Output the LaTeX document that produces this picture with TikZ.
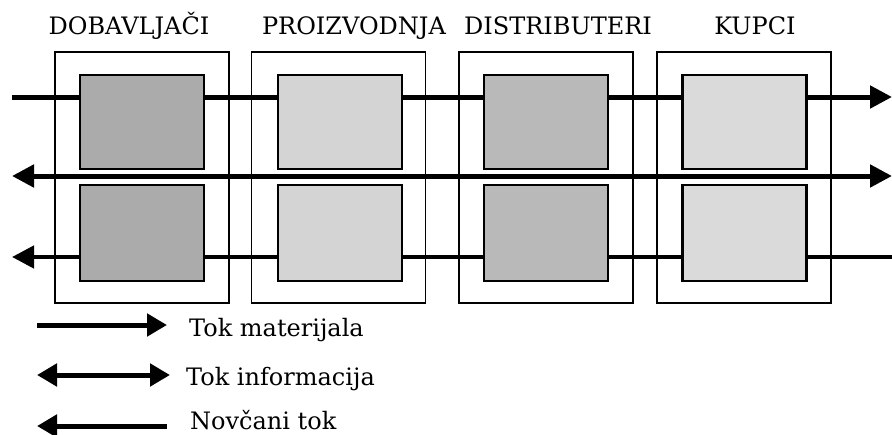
\documentclass[tikz,border=0pt]{standalone}
\usepackage{fontspec}
\setmainfont{DejaVu Serif}
\usepackage{tikz}
\usetikzlibrary{positioning,arrows.meta}

\definecolor{sivaA}{HTML}{ABABAB}
\definecolor{sivaB}{HTML}{D4D4D4}
\definecolor{sivaC}{HTML}{B9B9B9}
\definecolor{sivaD}{HTML}{DADADA}

\tikzset{
    okvir/.style={draw, rectangle, line width=1.6pt, minimum width=174pt, minimum height=251pt, inner sep=0pt},
    kutija/.style={draw, rectangle, line width=2.6pt, minimum width=124pt, inner sep=0pt},
    tok/.style={line width=5pt},
    vrh/.style={-{Triangle[length=22pt,width=22pt]}},
    naslov/.style={font=\fontsize{24}{26}\selectfont, inner sep=0pt, anchor=base},
    opis/.style={font=\fontsize{24}{26}\selectfont, inner sep=0pt, anchor=base west}
}

\begin{document}
\begin{tikzpicture}[x=1pt, y=-1pt]
                    \useasboundingbox (0,0) rectangle (892,434);
                    \node[naslov] (hDob) at (129,34) {DOBAVLJAČI};
                    \node[naslov] (hPro) at (354,34) {PROIZVODNJA};
                    \node[naslov] (hDis) at (558,34) {DISTRIBUTERI};
                    \node[naslov] (hKup) at (755,34) {KUPCI};
                    \node[okvir] (fDob) at (142,177.5) {};
                    \node[okvir] (fPro) at (338.5,177.5) {};
                    \node[okvir] (fDis) at (546,177.5) {};
                    \node[okvir] (fKup) at (744,177.5) {};
                    \coordinate (matL) at (12,97);
                    \coordinate (matR) at (892,97);
                    \coordinate (infL) at (12,176);
                    \coordinate (infR) at (892,176);
                    \coordinate (novL) at (12,257);
                    \coordinate (novR) at (892,257);
                    \draw[tok, vrh] (matL) -- (matR);
                    \draw[tok, {Triangle[length=22pt,width=22pt]}-{Triangle[length=22pt,width=22pt]}] (infL) -- (infR);
                    \draw[tok, line width=4.5pt, {Triangle[length=22pt,width=22pt]}-] (novL) -- (novR);
                    \node[kutija, fill=sivaA, minimum height=94pt] (gDob) at (142,122) {};
                    \node[kutija, fill=sivaB, minimum height=94pt] (gPro) at (340,122) {};
                    \node[kutija, fill=sivaC, minimum height=94pt] (gDis) at (546,122) {};
                    \node[kutija, fill=sivaD, minimum height=94pt] (gKup) at (744.5,122) {};
                    \node[kutija, fill=sivaA, minimum height=96pt] (dDob) at (142,233) {};
                    \node[kutija, fill=sivaB, minimum height=96pt] (dPro) at (340,233) {};
                    \node[kutija, fill=sivaC, minimum height=96pt] (dDis) at (546,233) {};
                    \node[kutija, fill=sivaD, minimum height=96pt] (dKup) at (744.5,233) {};
                    \coordinate (l1a) at (37,325);
                    \coordinate (l1b) at (167,325);
                    \coordinate (l2a) at (37,375);
                    \coordinate (l2b) at (170,375);
                    \coordinate (l3a) at (37,426);
                    \coordinate (l3b) at (167,426);
                    \draw[tok, -{Triangle[length=20pt,width=22pt]}] (l1a) -- (l1b);
                    \draw[tok, {Triangle[length=20pt,width=22pt]}-{Triangle[length=20pt,width=22pt]}] (l2a) -- (l2b);
                    \draw[tok, {Triangle[length=20pt,width=22pt]}-] (l3a) -- (l3b);
                    \node[opis] (tMat) at (189,336) {Tok materijala};
                    \node[opis] (tInf) at (186,385) {Tok informacija};
                    \node[opis] (tNov) at (190,429) {Novčani tok};
                \end{tikzpicture}
\end{document}
